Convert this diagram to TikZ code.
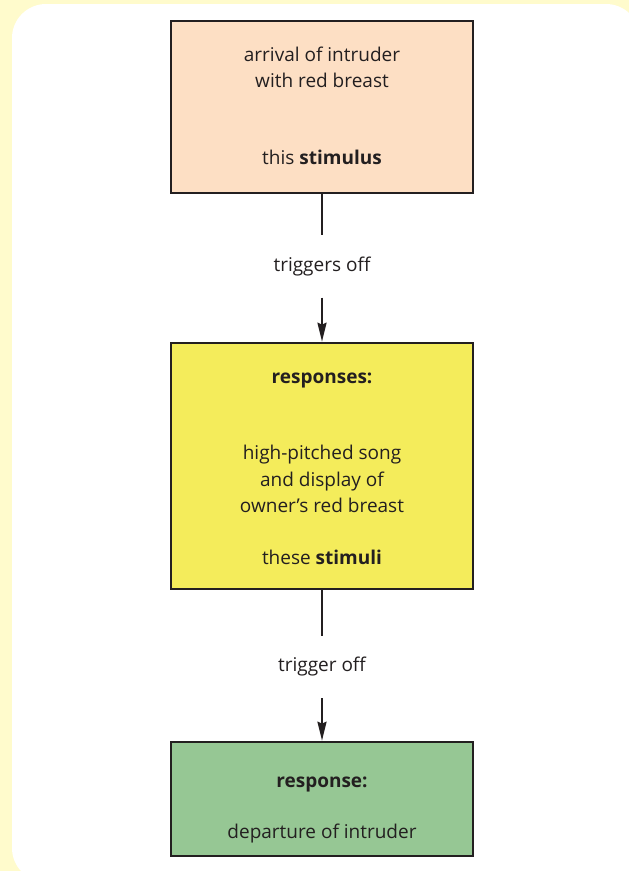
\documentclass[tikz,border=0pt]{standalone}
\usepackage{fontspec}
\setmainfont{Open Sans}
\usetikzlibrary{arrows.meta}
\definecolor{pagebg}{HTML}{FFFBCC}
\definecolor{ink}{HTML}{231F20}
\definecolor{peach}{HTML}{FDDFC4}
\definecolor{lemon}{HTML}{F4EC5B}
\definecolor{sage}{HTML}{96C794}
\tikzset{
  stagebox/.style={draw=ink, line width=2.6pt, minimum width=302pt, inner sep=0pt},
  stagetext/.style={inner sep=0pt, align=center, text=ink,
    font=\fontsize{19}{26.5}\selectfont},
  linkword/.style={inner sep=0pt, minimum height=62pt, text=ink,
    font=\fontsize{19}{26.5}\selectfont},
  link/.style={draw=ink, line width=2.2pt},
  linkarrow/.style={link, -{Stealth[length=19pt, width=9pt, inset=2pt]}}
}
\begin{document}
\begin{tikzpicture}[x=1pt, y=-1pt]
  \useasboundingbox (0,0) rectangle (629,871);
  % page and panel
  \fill[pagebg] (0,0) rectangle (629,871);
  \begin{scope}
    \clip (0,0) rectangle (629,871);
    \fill[white, rounded corners=34pt] (12,4) rectangle (640,882);
  \end{scope}

  % stages
  \node[stagebox, fill=peach, minimum height=172pt] (stim) at (322,107) {};
  \node[stagetext] (stimtext) at (322,106)
    {arrival of intruder\\with red breast\\[50.5pt]this \textbf{stimulus}};
  \node[linkword] (trig1) at (322,266.5) {triggers off};
  \node[stagebox, fill=lemon, minimum height=246pt] (resp) at (322,466) {};
  \node[stagetext] (resptext) at (322,469)
    {\textbf{responses:}\\[49.5pt]high-pitched song\\and display of\\owner’s red breast\\[25.5pt]these \textbf{stimuli}};
  \node[linkword] (trig2) at (322,667) {trigger off};
  \node[stagebox, fill=sage, minimum height=114pt] (leave) at (322,799) {};
  \node[stagetext] (leavetext) at (322,809.5)
    {\textbf{response:}\\[24.5pt]departure of intruder};

  % connectors
  \draw[link] (stim) -- (trig1);
  \draw[linkarrow] (trig1) -- (resp);
  \draw[link] (resp) -- (trig2);
  \draw[linkarrow] (trig2) -- (leave);
\end{tikzpicture}
\end{document}
